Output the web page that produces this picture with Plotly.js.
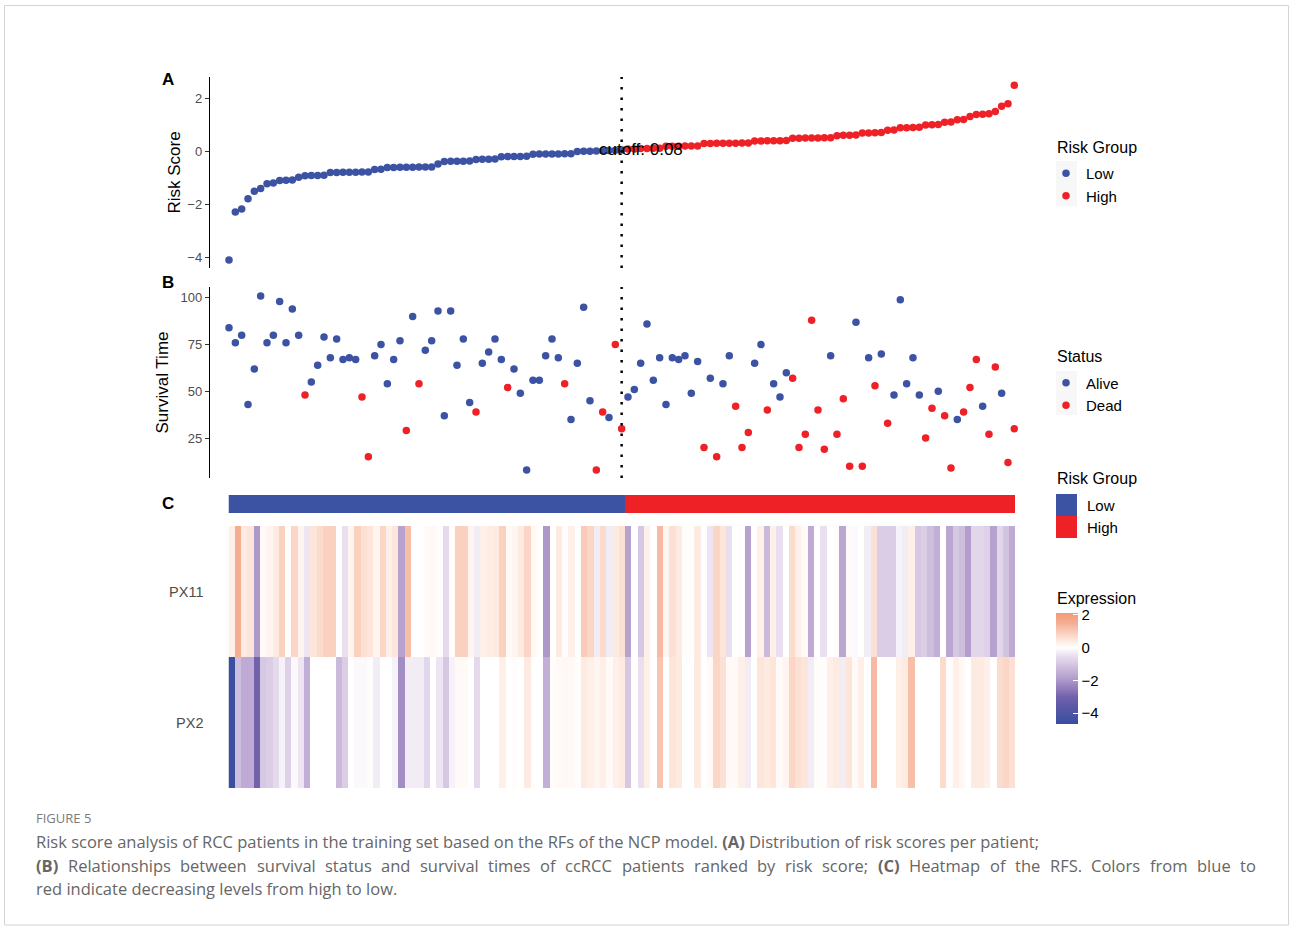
<!DOCTYPE html>
<html>
<head>
<meta charset="utf-8">
<script src="https://cdn.plot.ly/plotly-3.0.1.min.js"></script>
<style>
  html, body { margin: 0; padding: 0; background: #ffffff; }
  #chart { width: 1290px; height: 926px; }
</style>
</head>
<body>
<div id="chart"></div>
<script>
// ---------------- DATA ----------------
// Risk score per patient (ranked ascending)
const riskScore = [
  -4.10,-2.29,-2.18,-1.79,-1.51,-1.40,-1.22,-1.20,-1.10,-1.09,
  -1.08,-0.98,-0.92,-0.91,-0.91,-0.90,-0.80,-0.80,-0.79,-0.79,
  -0.79,-0.78,-0.78,-0.69,-0.68,-0.61,-0.61,-0.60,-0.60,-0.60,
  -0.59,-0.59,-0.59,-0.48,-0.39,-0.38,-0.38,-0.38,-0.37,-0.31,
  -0.30,-0.30,-0.29,-0.21,-0.20,-0.20,-0.20,-0.19,-0.11,-0.10,
  -0.10,-0.10,-0.10,-0.09,-0.09,-0.01,0.00,0.00,0.01,0.02,
  0.03,0.04,0.05,0.09,0.09,0.10,0.10,0.11,0.11,0.19,
  0.19,0.19,0.20,0.20,0.20,0.29,0.29,0.30,0.30,0.30,
  0.30,0.31,0.31,0.39,0.39,0.40,0.40,0.40,0.41,0.49,
  0.49,0.50,0.50,0.50,0.51,0.51,0.59,0.60,0.60,0.61,
  0.69,0.69,0.70,0.71,0.79,0.80,0.89,0.89,0.90,0.91,
  0.99,1.00,1.01,1.09,1.10,1.19,1.20,1.31,1.39,1.40,
  1.41,1.50,1.70,1.79,2.49
];
// Risk group per patient (first 63 low, remaining 62 high)
const riskGroup = [
  "Low","Low","Low","Low","Low","Low","Low","Low","Low","Low",
  "Low","Low","Low","Low","Low","Low","Low","Low","Low","Low",
  "Low","Low","Low","Low","Low","Low","Low","Low","Low","Low",
  "Low","Low","Low","Low","Low","Low","Low","Low","Low","Low",
  "Low","Low","Low","Low","Low","Low","Low","Low","Low","Low",
  "Low","Low","Low","Low","Low","Low","Low","Low","Low","Low",
  "Low","Low","Low","High","High","High","High","High","High","High",
  "High","High","High","High","High","High","High","High","High","High",
  "High","High","High","High","High","High","High","High","High","High",
  "High","High","High","High","High","High","High","High","High","High",
  "High","High","High","High","High","High","High","High","High","High",
  "High","High","High","High","High","High","High","High","High","High",
  "High","High","High","High","High"
];
// Survival time per patient
const survivalTime = [
  84,76,80,43,62,101,76,80,98,76,
  94,80,48,55,64,79,68,78,67,68,
  67,47,15,69,75,54,67,77,29,90,
  54,72,77,93,37,93,64,78,44,39,
  65,71,78,67,52,62,49,8,56,56,
  69,78,68,54,35,65,95,45,8,39,
  36,75,30,47,51,65,86,56,68,43,
  68,67,69,49,66,20,57,15,54,69,
  42,20,28,65,75,40,54,47,60,57,
  20,27,88,40,19,69,27,46,10,87,
  10,68,53,70,33,48,99,54,68,48,
  25,41,50,37,9,35,39,52,67,42,
  27,63,49,12,30
];
// Survival status per patient
const status = [
  "Alive","Alive","Alive","Alive","Alive","Alive","Alive","Alive","Alive","Alive",
  "Alive","Alive","Dead","Alive","Alive","Alive","Alive","Alive","Alive","Alive",
  "Alive","Dead","Dead","Alive","Alive","Alive","Alive","Alive","Dead","Alive",
  "Dead","Alive","Alive","Alive","Alive","Alive","Alive","Alive","Alive","Dead",
  "Alive","Alive","Alive","Alive","Dead","Alive","Alive","Alive","Alive","Alive",
  "Alive","Alive","Alive","Dead","Alive","Alive","Alive","Alive","Dead","Dead",
  "Alive","Dead","Dead","Alive","Alive","Alive","Alive","Alive","Alive","Alive",
  "Alive","Alive","Alive","Alive","Alive","Dead","Alive","Dead","Alive","Alive",
  "Dead","Dead","Dead","Alive","Alive","Dead","Alive","Alive","Alive","Dead",
  "Dead","Dead","Dead","Dead","Dead","Alive","Dead","Dead","Dead","Alive",
  "Dead","Alive","Dead","Alive","Dead","Alive","Alive","Alive","Alive","Alive",
  "Dead","Dead","Alive","Dead","Dead","Alive","Dead","Dead","Dead","Alive",
  "Dead","Dead","Alive","Dead","Dead"
];
// Expression heatmap rows
const genes = ["PX2", "PX11"];
const exprPX11 = [
  0.3,1.5,0.4,0.5,-2.0,0.1,0.2,0.4,0.9,0.05,
  0.8,0.2,-0.4,0.5,0.7,0.9,0.9,0.0,-0.5,0.2,
  0.9,0.6,0.5,0.2,0.8,0.3,0.5,-1.8,1.2,0.0,
  0.0,0.1,0.15,0.05,-0.6,0.05,0.9,0.9,0.2,-0.3,
  0.3,0.35,0.4,0.9,0.1,0.2,0.4,0.8,0.15,0.0,
  -2.0,0.0,0.4,0.05,0.3,0.0,1.0,0.8,-0.3,0.7,
  -0.3,0.4,0.6,-1.8,0.0,-1.0,0.3,0.0,1.3,0.2,
  0.6,0.4,0.05,0.05,0.4,0.0,-0.4,0.8,0.5,-0.5,
  0.0,0.05,-1.8,0.0,0.3,-1.3,0.3,-0.5,0.0,0.7,
  0.3,0.1,-1.6,0.0,-0.5,0.0,0.05,-1.7,0.1,-0.1,
  0.0,-0.3,0.6,-0.9,-0.9,-0.9,-0.2,-0.3,0.3,-1.0,
  -0.9,-1.2,-1.5,0.0,-1.7,-1.0,-1.2,-1.9,-0.7,-0.7,
  -0.8,-1.8,-0.7,-1.1,-1.6
];
const exprPX2 = [
  -4.6,-1.2,-1.6,-1.6,-3.0,-1.0,-0.9,-0.6,-0.2,-0.8,
  -0.1,-0.4,-1.5,0.0,0.0,0.0,0.0,-1.3,-0.9,0.0,
  -0.1,-0.1,0.05,-0.3,0.0,0.0,-0.2,-2.2,-0.3,-0.3,
  -0.3,-0.7,0.0,-0.4,-1.0,-0.2,0.1,0.1,0.0,-0.6,
  0.0,0.0,0.0,0.3,0.0,0.05,0.0,0.4,0.0,0.0,
  -1.5,0.05,0.1,0.15,0.1,0.05,0.4,0.3,0.2,0.3,
  0.1,0.3,0.4,-1.0,0.0,-0.5,0.3,0.0,1.1,0.0,
  0.5,0.4,0.0,0.0,0.4,0.0,0.1,0.8,0.6,0.1,
  0.1,0.3,-0.3,0.0,0.5,0.4,0.5,0.1,0.2,0.8,
  0.6,0.5,-0.3,0.05,0.05,0.3,0.4,-0.3,0.5,0.1,
  0.3,0.0,1.3,0.0,0.0,0.0,0.3,0.4,1.2,0.0,
  0.0,0.0,0.0,0.7,0.05,0.3,0.15,0.0,0.4,0.4,
  0.3,0.0,0.7,0.8,0.6
];
const cutoffValue = 0.08;
const groupNames = ["Low", "High"];
const statusNames = ["Alive", "Dead"];
const exprTicks = [-4, -2, 0, 2];

// ---------------- STYLE ----------------
const W = 1290, H = 926;
const BLUE = "#3C52A2", RED = "#EE2127";
const FONT = "Liberation Sans, Arial, Helvetica, sans-serif";
const CAPFONT = "Open Sans";
const CAPSIZE = 16.5;
const px2x = p => p / W;
const px2y = p => 1 - p / H;
const domX = (a, b) => [a / W, b / W];
const domY = (top, bottom) => [1 - bottom / H, 1 - top / H];

const rank = riskScore.map((_, i) => i + 1);
const cutoffRank = riskGroup.lastIndexOf("Low") + 1;

function pick(arr, mask, val) { return arr.filter((_, i) => mask[i] === val); }

const traces = [];
// Panel A
groupNames.forEach((g, gi) => {
  traces.push({
    type: "scatter", mode: "markers", name: g,
    x: pick(rank, riskGroup, g), y: pick(riskScore, riskGroup, g),
    xaxis: "x", yaxis: "y", legend: "legend",
    marker: { color: gi === 0 ? BLUE : RED, size: 7.5 },
    hoverinfo: "skip", cliponaxis: false
  });
});
// Panel B
statusNames.forEach((s, si) => {
  traces.push({
    type: "scatter", mode: "markers", name: s,
    x: pick(rank, status, s), y: pick(survivalTime, status, s),
    xaxis: "x2", yaxis: "y2", legend: "legend2",
    marker: { color: si === 0 ? BLUE : RED, size: 7.5 },
    hoverinfo: "skip", cliponaxis: false
  });
});
// Panel C annotation bar
traces.push({
  type: "heatmap", x: rank, y: ["Risk Group"],
  z: [riskGroup.map(g => groupNames.indexOf(g))],
  zmin: 0, zmax: 1, showscale: false,
  colorscale: [[0, BLUE], [0.5, BLUE], [0.5, RED], [1, RED]],
  xaxis: "x3", yaxis: "y3", hoverinfo: "skip"
});
// Panel C expression heatmap
const zmin = -4.67, zmax = 2.12;
const cs = [
  [-4.67, "#3A4DA0"], [-3.5, "#5D5AA7"], [-3.0, "#7262AC"], [-2.0, "#AE98CA"],
  [-1.5, "#C2AFD6"], [-1.0, "#D6C8E2"], [-0.5, "#E9DFEF"], [0, "#FFFFFF"],
  [0.3, "#FEF0E8"], [0.6, "#FCE0D3"], [1.0, "#F9CAB7"], [1.5, "#F5AD92"], [2.12, "#F29A7A"]
].map(([v, c]) => [(v - zmin) / (zmax - zmin), c]);
traces.push({
  type: "heatmap", x: rank, y: genes, z: [exprPX2, exprPX11],
  zmin: zmin, zmax: zmax, colorscale: cs,
  xaxis: "x4", yaxis: "y4", hoverinfo: "skip",
  colorbar: {
    x: px2x(1056), xanchor: "left", y: px2y(613), yanchor: "top",
    len: 111, lenmode: "pixels", thickness: 22, thicknessmode: "pixels",
    outlinewidth: 0, xpad: 0, ypad: 0,
    tickvals: exprTicks, ticks: "inside", ticklen: 5, tickcolor: "#ffffff", tickwidth: 1,
    tickfont: { family: FONT, size: 15, color: "#000" }
  }
});

// ---------------- LAYOUT ----------------
const hidden = { showline: false, showticklabels: false, ticks: "", showgrid: false, zeroline: false };
const yStyle = {
  showline: true, linecolor: "#000", linewidth: 1.2, ticks: "outside", ticklen: 4,
  tickcolor: "#333", tickwidth: 1, showgrid: false, zeroline: false,
  tickfont: { family: FONT, size: 13, color: "#4D4D4D" }
};
const shapes = [
  // figure frame
  { type: "rect", xref: "paper", yref: "paper", x0: px2x(4.5), x1: px2x(1288.5), y0: px2y(925), y1: px2y(5.5),
    line: { color: "#D4D4D4", width: 1 }, fillcolor: "rgba(0,0,0,0)" },
  // cutoff lines
  { type: "line", xref: "x", yref: "y domain", x0: cutoffRank, x1: cutoffRank, y0: 0, y1: 1,
    line: { color: "#000", width: 2.5, dash: "2.5px,8px" } },
  { type: "line", xref: "x2", yref: "y2 domain", x0: cutoffRank, x1: cutoffRank, y0: 0, y1: 1,
    line: { color: "#000", width: 2.5, dash: "2.5px,8px" } },
  // legend key backgrounds (scatter legends)
  { type: "rect", xref: "paper", yref: "paper", x0: px2x(1056), x1: px2x(1077), y0: px2y(206), y1: px2y(161),
    fillcolor: "#F7F7F7", line: { width: 0 }, layer: "below" },
  { type: "rect", xref: "paper", yref: "paper", x0: px2x(1056), x1: px2x(1077), y0: px2y(415), y1: px2y(371),
    fillcolor: "#F7F7F7", line: { width: 0 }, layer: "below" },
  // heatmap risk group legend keys
  { type: "rect", xref: "paper", yref: "paper", x0: px2x(1056), x1: px2x(1077), y0: px2y(516), y1: px2y(494),
    fillcolor: BLUE, line: { width: 0 } },
  { type: "rect", xref: "paper", yref: "paper", x0: px2x(1056), x1: px2x(1077), y0: px2y(538), y1: px2y(516),
    fillcolor: RED, line: { width: 0 } }
];
const ann = (x, y, text, opts) => Object.assign({
  xref: "paper", yref: "paper", x: px2x(x), y: px2y(y), text: text, showarrow: false,
  xanchor: "left", yanchor: "middle", font: { family: FONT, size: 16, color: "#000" }
}, opts || {});
const capFont = { family: CAPFONT, size: CAPSIZE, color: "#666" };
const annotations = [
  ann(160, 80, "<b>A</b>", { font: { family: FONT, size: 17, color: "#000" } }),
  ann(160, 283, "<b>B</b>", { font: { family: FONT, size: 17, color: "#000" } }),
  ann(160, 503, "<b>C</b>", { font: { family: FONT, size: 17, color: "#000" } }),
  { xref: "x", yref: "y", x: cutoffRank + 3, y: cutoffValue, text: "cutoff: " + cutoffValue.toFixed(2),
    showarrow: false, xanchor: "center", yanchor: "middle", font: { family: FONT, size: 17, color: "#000" } },
  ann(1055, 147, "Risk Group"),
  ann(1055, 356, "Status"),
  ann(1055, 478, "Risk Group"),
  ann(1085, 505, "Low", { font: { family: FONT, size: 15, color: "#000" } }),
  ann(1085, 527, "High", { font: { family: FONT, size: 15, color: "#000" } }),
  ann(1055, 598, "Expression"),
  ann(34, 818, "FIGURE 5", { font: { family: CAPFONT, size: 13, color: "#7A7A7A" } }),
  ann(34, 841, "Risk score analysis of RCC patients in the training set based on the RFs of the NCP model. <b>(A)</b> Distribution of risk scores per patient;",
    { font: capFont }),
  ann(34, 888, "red indicate decreasing levels from high to low.", { font: capFont })
];

// justified caption line (word positions measured with the same font)
(function justify() {
  const words = "<b>(B)</b> Relationships between survival status and survival times of ccRCC patients ranked by risk score; <b>(C)</b> Heatmap of the RFS. Colors from blue to".split(" ");
  const cv = document.createElement("canvas").getContext("2d");
  const widths = words.map(w => {
    const bold = w.indexOf("<b>") === 0;
    cv.font = (bold ? "bold " : "") + CAPSIZE + "px '" + CAPFONT + "'";
    return cv.measureText(w.replace(/<\/?b>/g, "")).width;
  });
  const x0 = 34, x1 = 1254;
  const total = widths.reduce((a, b) => a + b, 0);
  const gap = (x1 - x0 - total) / (words.length - 1);
  let cx = x0;
  words.forEach((w, i) => {
    annotations.push(ann(cx, 865, w, { font: capFont }));
    cx += widths[i] + gap;
  });
})();

const legendBase = {
  xanchor: "left", yanchor: "top", bgcolor: "rgba(0,0,0,0)", borderwidth: 0,
  font: { family: FONT, size: 15, color: "#000" }, itemsizing: "trace", tracegroupgap: 0
};

const layout = {
  width: W, height: H, margin: { l: 0, r: 0, t: 0, b: 0 },
  paper_bgcolor: "#fff", plot_bgcolor: "rgba(0,0,0,0)",
  font: { family: FONT, color: "#000" },
  xaxis: Object.assign({ domain: domX(210, 1033.3), range: [-2, 128], anchor: "y" }, hidden),
  yaxis: Object.assign({ domain: domY(77, 268), range: [-4.40, 2.80], tickvals: [-4, -2, 0, 2], anchor: "x",
    title: { text: "Risk Score", font: { family: FONT, size: 17, color: "#000" }, standoff: 2 } }, yStyle),
  xaxis2: Object.assign({ domain: domX(210, 1033.3), range: [-2, 128], anchor: "y2" }, hidden),
  yaxis2: Object.assign({ domain: domY(287, 478), range: [3.66, 105.8], tickvals: [25, 50, 75, 100], anchor: "x2",
    title: { text: "Survival Time", font: { family: FONT, size: 17, color: "#000" }, standoff: 7 } }, yStyle),
  xaxis3: Object.assign({ domain: domX(228.5, 1015), range: [0.5, 125.5], anchor: "y3" }, hidden),
  yaxis3: Object.assign({ domain: domY(495, 513), anchor: "x3" }, hidden),
  xaxis4: Object.assign({ domain: domX(228.5, 1015), range: [0.5, 125.5], anchor: "y4" }, hidden),
  yaxis4: { domain: domY(526, 788), anchor: "x4", showline: false, ticks: "", showgrid: false, zeroline: false,
    ticklabelstandoff: 24, tickfont: { family: FONT, size: 14.5, color: "#4D4D4D" } },
  legend: Object.assign({ x: px2x(1046), y: px2y(157) }, legendBase),
  legend2: Object.assign({ x: px2x(1046), y: px2y(366.5) }, legendBase),
  shapes: shapes,
  annotations: annotations
};

Plotly.newPlot("chart", traces, layout, { displayModeBar: false, staticPlot: true });
</script>
</body>
</html>
